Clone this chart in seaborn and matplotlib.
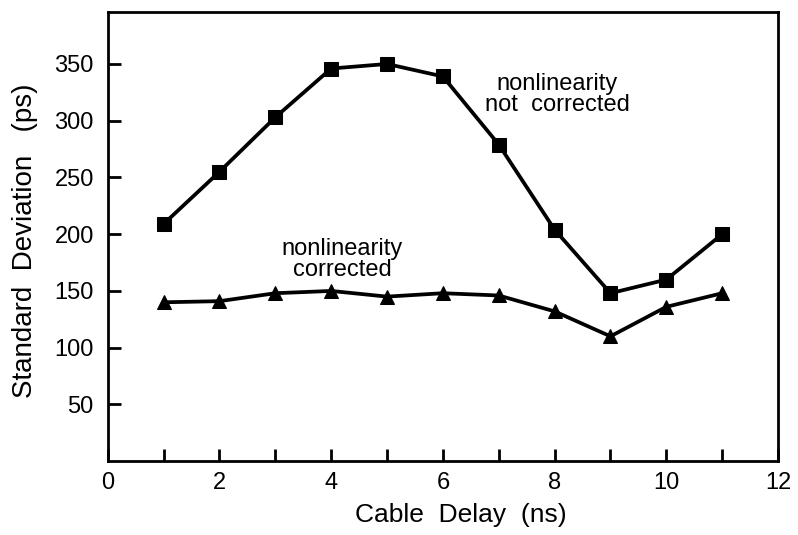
import pandas as pd
import matplotlib
matplotlib.use("Agg")
import matplotlib.pyplot as plt
import seaborn as sns
from matplotlib.ticker import MultipleLocator

# Data
cable_delay = [1, 2, 3, 4, 5, 6, 7, 8, 9, 10, 11]
not_corrected = [209, 255, 303, 346, 350, 339, 279, 204, 148, 160, 200]
corrected = [140, 141, 148, 150, 145, 148, 146, 132, 110, 136, 148]

df = pd.DataFrame({
    "delay": cable_delay * 2,
    "std": not_corrected + corrected,
    "series": ["not"] * len(cable_delay) + ["corr"] * len(cable_delay),
})

# Style
sns.set_style("ticks")
plt.rcParams["font.family"] = ["Liberation Sans", "DejaVu Sans"]
plt.rcParams["text.color"] = "black"
plt.rcParams["axes.labelcolor"] = "black"
plt.rcParams["xtick.color"] = "black"
plt.rcParams["ytick.color"] = "black"

fig = plt.figure(figsize=(7.98, 5.35), dpi=100)
ax = fig.add_axes([0.135, 0.138, 0.840, 0.840])

sns.lineplot(
    data=df, x="delay", y="std", style="series",
    markers={"not": "s", "corr": "^"}, dashes=False,
    color="black", linewidth=2.7, markersize=9.5,
    markeredgecolor="black", legend=False, ax=ax,
)

# Labels
ax.text(8.05, 323, "nonlinearity\nnot  corrected", ha="center", va="center",
        fontsize=17, linespacing=0.95)
ax.text(4.2, 178, "nonlinearity\ncorrected", ha="center", va="center",
        fontsize=17, linespacing=0.95)

ax.set_xlim(0, 12)
ax.set_ylim(0, 396)
ax.xaxis.set_major_locator(MultipleLocator(2))
ax.xaxis.set_minor_locator(MultipleLocator(1))
ax.set_yticks([50, 100, 150, 200, 250, 300, 350])

ax.tick_params(axis="both", which="both", direction="in", length=9, width=2,
               labelsize=17)
ax.tick_params(axis="y", right=False, pad=10)
ax.tick_params(axis="x", top=False, pad=8)

for s in ax.spines.values():
    s.set_linewidth(2)
    s.set_color("black")

ax.set_xlabel("Cable  Delay  (ns)", fontsize=19, labelpad=6)
ax.set_ylabel("Standard  Deviation   (ps)", fontsize=20, labelpad=12)
ax.xaxis.label.set_x(0.527)
ax.yaxis.label.set_y(0.49)

plt.savefig("out.png", dpi=100)
